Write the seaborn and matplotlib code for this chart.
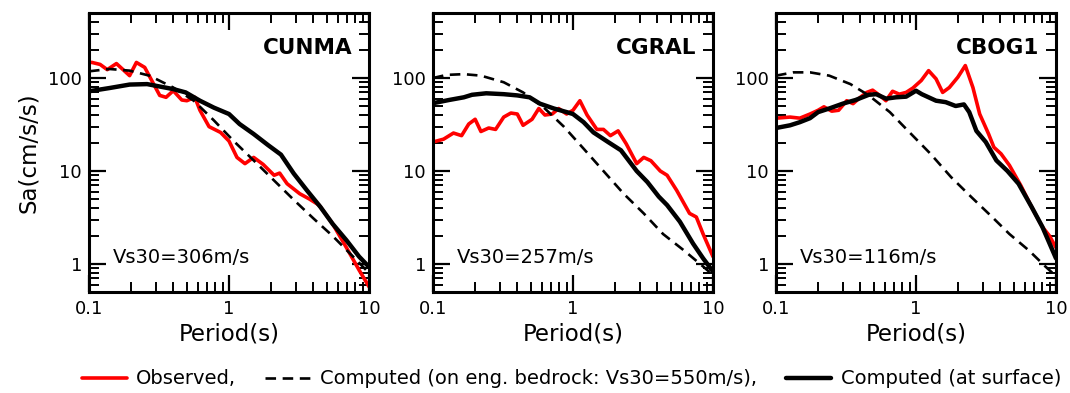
"""Response spectra at three stations: observed vs. computed (bedrock / surface)."""

import matplotlib
matplotlib.use("Agg")
import matplotlib.pyplot as plt
import matplotlib.ticker as mticker
import pandas as pd
import seaborn as sns

# ---- data (period in s, Sa in cm/s/s) ----
stations = ["CUNMA", "CGRAL", "CBOG1"]
vs30_labels = ["Vs30=306m/s", "Vs30=257m/s", "Vs30=116m/s"]

cunma_obs_T = [0.1, 0.105, 0.12, 0.135, 0.157, 0.195, 0.218, 0.25, 0.32, 0.355, 0.4, 0.46, 0.5,
               0.57, 0.62, 0.72, 0.87, 1.0, 1.14, 1.3, 1.5, 1.75, 2.1, 2.3, 2.6, 3.2, 3.75,
               4.4, 5.5, 6.9, 8.5, 10.0]
cunma_obs_sa = [147, 147, 140, 123, 143, 106, 147, 130, 65, 62, 73, 58, 57,
                62, 45, 30, 26, 21, 14, 12, 14, 11.8, 9, 9.5, 7.3, 5.7, 5.0,
                4.3, 2.7, 1.5, 0.86, 0.57]
cunma_srf_T = [0.1, 0.14, 0.195, 0.26, 0.32, 0.4, 0.49, 0.62, 0.78, 1.0, 1.19, 1.5, 1.9,
               2.35, 2.9, 3.6, 4.5, 5.5, 6.9, 8.5, 10.0]
cunma_srf_sa = [72, 78, 85, 86, 81, 76, 70, 57, 48, 41, 32, 25, 19,
                15, 9.4, 6.2, 4.1, 2.7, 1.8, 1.2, 0.93]
cunma_bed_T = [0.1, 0.14, 0.195, 0.27, 0.4, 0.56, 0.78, 1.08, 1.5, 2.1, 2.9, 4.0, 5.5, 7.7, 10.0]
cunma_bed_sa = [118, 125, 120, 106, 79, 57, 35, 21, 13, 7.9, 4.9, 3.1, 2.0, 1.2, 0.8]

cgral_obs_T = [0.1, 0.119, 0.14, 0.16, 0.18, 0.2, 0.22, 0.25, 0.28, 0.32, 0.36, 0.4, 0.44,
               0.51, 0.57, 0.63, 0.71, 0.79, 0.9, 1.0, 1.12, 1.26, 1.48, 1.65, 1.85, 2.1,
               2.4, 2.85, 3.2, 3.6, 4.2, 4.7, 5.5, 6.8, 7.6, 8.5, 10.0]
cgral_obs_sa = [20.5, 22, 25.6, 24, 32, 36, 26.6, 29, 28, 38, 42, 41, 31,
                36, 47, 40, 41, 47, 41, 45, 57, 40, 28, 28, 24, 27,
                19.6, 12, 14, 12.9, 10, 9, 6.2, 3.5, 3.2, 2.1, 1.2]
cgral_srf_T = [0.1, 0.13, 0.166, 0.19, 0.24, 0.32, 0.4, 0.49, 0.58, 0.73, 0.9, 1.0, 1.19,
               1.4, 1.78, 2.2, 2.85, 3.4, 4.1, 4.7, 5.8, 7.2, 8.5, 10.0]
cgral_srf_sa = [53.6, 58, 62, 66, 68.5, 67, 65, 62, 53, 47, 43, 41, 33.5,
                26, 20.5, 16.7, 10, 7.6, 5.3, 4.3, 2.85, 1.66, 1.15, 0.83]
cgral_bed_T = [0.1, 0.125, 0.166, 0.22, 0.32, 0.44, 0.62, 0.86, 1.19, 1.65, 2.3, 3.2, 4.4,
               6.2, 8.5, 10.0]
cgral_bed_sa = [100, 108, 110, 106, 90, 70, 48, 30, 17.4, 10, 5.7, 3.5, 2.1, 1.4, 0.94, 0.76]

cbog1_obs_T = [0.1, 0.126, 0.148, 0.175, 0.2, 0.22, 0.25, 0.28, 0.32, 0.355, 0.4, 0.445, 0.49,
               0.55, 0.61, 0.68, 0.76, 0.85, 0.95, 1.09, 1.23, 1.39, 1.55, 1.73, 1.99, 2.25,
               2.55, 2.85, 3.3, 3.6, 4.05, 4.65, 5.6, 6.7, 8.0, 9.0, 10.0]
cbog1_obs_sa = [37, 38, 37, 41, 45, 49, 44, 45, 57, 53, 62, 70, 74,
                65, 57, 72, 67, 70, 78, 94, 120, 98, 70, 79, 102, 136,
                79, 41, 25, 18, 15.3, 11.5, 7, 4.1, 2.5, 2.0, 1.5]
cbog1_srf_T = [0.1, 0.126, 0.148, 0.175, 0.2, 0.24, 0.3, 0.37, 0.46, 0.52, 0.61, 0.72, 0.85,
               1.0, 1.1, 1.39, 1.63, 1.92, 2.2, 2.4, 2.7, 3.15, 3.75, 4.5, 5.4, 6.7, 8.0, 10.0]
cbog1_srf_sa = [29, 31, 33.5, 37, 43, 47, 53, 58, 66, 67, 60, 62, 63,
                73, 67, 57, 55, 50, 52, 43, 27, 20.5, 13, 10, 7.3, 4.1, 2.5, 1.15]
cbog1_bed_T = [0.1, 0.133, 0.175, 0.24, 0.34, 0.46, 0.65, 0.9, 1.27, 1.78, 2.5, 3.5, 4.65,
               6.4, 8.4, 10.0]
cbog1_bed_sa = [106, 115, 115, 106, 86, 65, 43, 26, 15.3, 8.6, 5.2, 3.2, 2.1, 1.4, 0.94, 0.74]

legend_labels = ["Observed,", "Computed (on eng. bedrock: Vs30=550m/s),", "Computed (at surface)"]

series = {
    "CUNMA": [(cunma_obs_T, cunma_obs_sa), (cunma_bed_T, cunma_bed_sa), (cunma_srf_T, cunma_srf_sa)],
    "CGRAL": [(cgral_obs_T, cgral_obs_sa), (cgral_bed_T, cgral_bed_sa), (cgral_srf_T, cgral_srf_sa)],
    "CBOG1": [(cbog1_obs_T, cbog1_obs_sa), (cbog1_bed_T, cbog1_bed_sa), (cbog1_srf_T, cbog1_srf_sa)],
}

sns.set_style("ticks", {"axes.edgecolor": "black", "text.color": "black",
                        "axes.labelcolor": "black", "xtick.color": "black",
                        "ytick.color": "black"})
plt.rcParams["font.family"] = ["DejaVu Sans"]

styles = [
    dict(color="red", lw=2.6, linestyle="-"),
    dict(color="black", lw=1.9, linestyle=(0, (4, 2.5))),
    dict(color="black", lw=3.2, linestyle="-"),
]

fig = plt.figure(figsize=(10.7, 3.93), dpi=100)
lefts = [89 / 1070, 433 / 1070, 776 / 1070]
width = 280 / 1070
bottom = 1 - 292 / 393
height = 279 / 393

fmt = mticker.FuncFormatter(lambda v, _: f"{v:g}")
handles = []
for i, name in enumerate(stations):
    ax = fig.add_axes([lefts[i], bottom, width, height])
    for (T, sa), st, lab in zip(series[name], styles, legend_labels):
        df = pd.DataFrame({"T": T, "Sa": sa})
        sns.lineplot(data=df, x="T", y="Sa", ax=ax, estimator=None, sort=False,
                     label=lab, **st)
    ax.set_xscale("log")
    ax.set_yscale("log")
    ax.set_xlim(0.1, 10)
    ax.set_ylim(0.5, 500)
    ax.set_xticks([0.1, 1, 10])
    ax.set_yticks([1, 10, 100])
    ax.xaxis.set_major_formatter(fmt)
    ax.yaxis.set_major_formatter(fmt)
    ax.xaxis.set_minor_formatter(mticker.NullFormatter())
    ax.yaxis.set_minor_formatter(mticker.NullFormatter())
    ax.tick_params(which="both", direction="in", top=True, right=True, labelsize=13,
                   color="black", labelcolor="black")
    ax.tick_params(which="major", length=12, width=1.6)
    ax.tick_params(which="minor", length=7, width=1.4)
    ax.tick_params(axis="x", pad=6)
    ax.tick_params(axis="y", pad=5)
    for sp in ax.spines.values():
        sp.set_linewidth(2.2)
        sp.set_color("black")
    ax.set_xlabel("Period(s)", fontsize=16.5, labelpad=3, color="black")
    if i == 0:
        ax.set_ylabel("Sa(cm/s/s)", fontsize=16.5, labelpad=6, color="black")
    else:
        ax.set_ylabel("")
    ax.text(0.94, 0.875, name, transform=ax.transAxes, ha="right", va="center",
            fontsize=15.5, fontweight="bold", color="black")
    ax.text(0.086, 0.125, vs30_labels[i], transform=ax.transAxes, ha="left", va="center",
            fontsize=14, color="black")
    handles, labels = ax.get_legend_handles_labels()
    ax.get_legend().remove()

leg = fig.legend(handles, legend_labels, loc="center", bbox_to_anchor=(0.534, 1 - 379 / 393),
                 ncol=3, frameon=False, fontsize=14, handlelength=2.3, handletextpad=0.5,
                 columnspacing=1.5, borderaxespad=0)
for t in leg.get_texts():
    t.set_color("black")

fig.savefig("out.png", dpi=100)
plt.close(fig)
